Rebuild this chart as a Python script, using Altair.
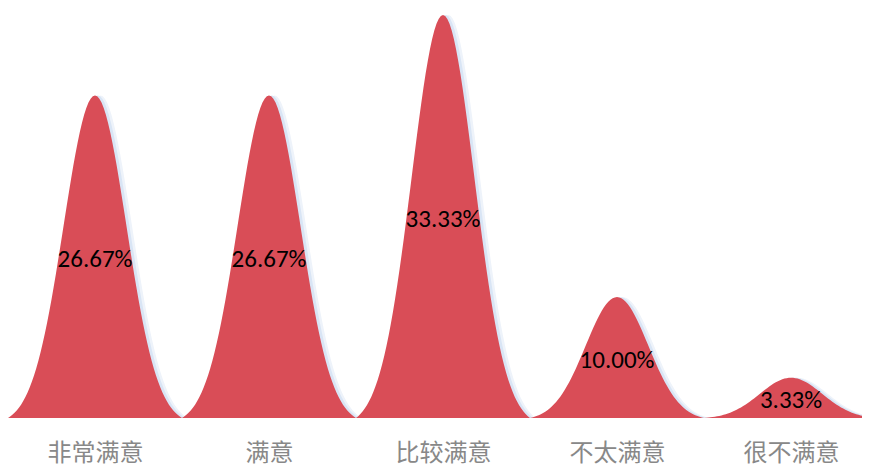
import altair as alt
import pandas as pd

categories = ["非常满意", "满意", "比较满意", "不太满意", "很不满意"]
values = [26.67, 26.67, 33.33, 10.00, 3.33]
labels = ["26.67%", "26.67%", "33.33%", "10.00%", "3.33%"]

df = pd.DataFrame({"cat": categories, "v": values, "lab": labels})

label_expr = "[" + ",".join("'%s'" % c for c in categories) + "][datum.value]"

SIG = 0.36
C = "exp(-1/(2*%f*%f))" % (SIG, SIG)

base = alt.Chart(df).transform_window(
    idx="row_number()"
).transform_calculate(
    idx="datum.idx - 1"
)

shape = base.transform_calculate(
    t="sequence(-40, 41)"
).transform_flatten(
    ["t"]
).transform_calculate(
    x="datum.idx + datum.t / 80",
    y="datum.v * max(0, (exp(-pow(datum.t/40, 2)/(2*%f*%f)) - %s) / (1 - %s))" % (SIG, SIG, C, C),
)

xscale = alt.Scale(domain=[-0.5, 4.408], nice=False, zero=False)
xaxis = alt.Axis(
    values=[0, 1, 2, 3, 4],
    labelExpr=label_expr,
    domain=False,
    ticks=False,
    tickSize=0,
    grid=False,
    title=None,
    labelFont="Noto Sans CJK SC",
    labelFontSize=24,
    labelColor="#888888",
    labelPadding=23,
)
yscale = alt.Scale(nice=False, zero=True)

shadow2 = shape.transform_calculate(xs="datum.x + 0.032").mark_area(
    color="#eef3fa", clip=True
).encode(
    x=alt.X("xs:Q", scale=xscale, axis=xaxis),
    y=alt.Y("y:Q", scale=yscale, axis=None),
    detail="cat:N",
)

shadow1 = shape.transform_calculate(xs="datum.x + 0.017").mark_area(
    color="#d9e5f5", clip=True
).encode(
    x=alt.X("xs:Q", scale=xscale, axis=xaxis),
    y=alt.Y("y:Q", scale=yscale, axis=None),
    detail="cat:N",
)

main = shape.mark_area(color="#d94d57", clip=True).encode(
    x=alt.X("x:Q", scale=xscale, axis=xaxis),
    y=alt.Y("y:Q", scale=yscale, axis=None),
    detail="cat:N",
)

text = base.transform_calculate(ym="datum.v / 2").mark_text(
    font="Carlito, Lato",
    fontSize=25,
    color="#000000",
    baseline="middle",
    align="center",
    dy=2,
).encode(
    x=alt.X("idx:Q", scale=xscale, axis=xaxis),
    y=alt.Y("ym:Q", scale=yscale, axis=None),
    text="lab:N",
)

chart = alt.layer(shadow2, shadow1, main, text).properties(
    width=854,
    height=403,
    padding={"left": 0, "top": 7, "right": 0, "bottom": 48},
    autosize=alt.AutoSizeParams(type="none"),
    background="#ffffff",
).configure_view(stroke="transparent", strokeWidth=0)

chart.save("out.html", embed_options={"renderer": "svg", "actions": False})
